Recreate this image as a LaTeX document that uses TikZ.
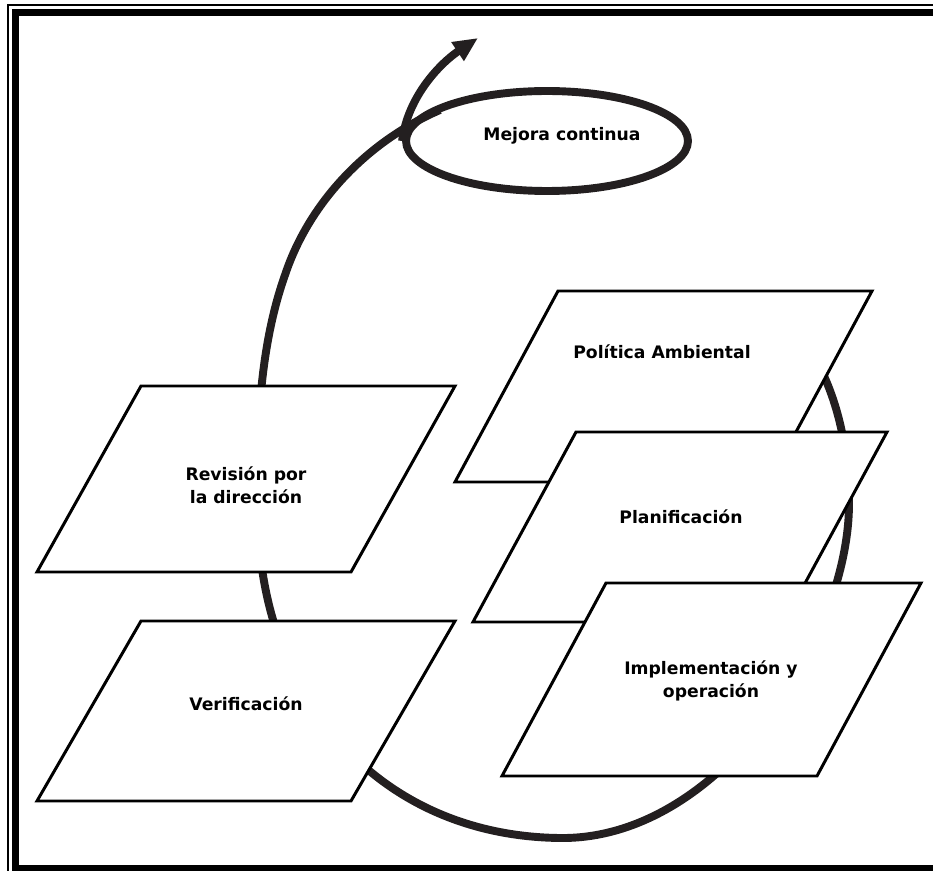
\documentclass[tikz,border=0pt]{standalone}
\usepackage{fontspec}
\setmainfont{DejaVu Sans}
\usetikzlibrary{arrows.meta, shapes.geometric}
\definecolor{tinta}{HTML}{231F20}

\begin{document}
\begin{tikzpicture}[
  x=0.02cm, y=-0.02cm,
  line join=miter,
  caja/.style = {draw=black, line width=1.7pt, fill=white},
  txt/.style = {font=\fontsize{9.8}{13}\selectfont\bfseries, align=center,
                inner sep=0pt},
  lazo/.style = {draw=tinta, line width=4.5pt},
  ovalo/.style = {draw=tinta, line width=4.5pt, ellipse, inner sep=0pt,
                minimum width=5.64cm, minimum height=2.0cm}
]
\useasboundingbox (0,0) rectangle (933,871);
\clip (0,0) rectangle (933,871);

% marco doble
\draw[line width=0.85pt] (8,5) rectangle (950,890);
\draw[line width=4pt] (15.5,12.5) rectangle (945,868.5);

% espiral
\draw[lazo] (780,318) .. controls (825,350) and (850,430) .. (849,505)
  .. controls (848,640) and (720,840) .. (560,838)
  .. controls (380,836) and (262,700) .. (258,520)
  .. controls (255,420) and (262,340) .. (285,275)
  .. controls (310,200) and (370,140) .. (440,110);

% cajas
\draw[caja] (558,291) -- (872,291) -- (769,482) -- (455,482) -- cycle;
\node[txt] (pol) at (662,352) {Política Ambiental};

\draw[caja] (576,432) -- (887,432) -- (784,622) -- (473,622) -- cycle;
\node[txt] (plan) at (681,517) {Planificación};

\draw[caja] (606,583) -- (921,583) -- (817,776) -- (502,776) -- cycle;
\node[txt] (impl) at (711,681) {Implementación y\\operación};

\draw[caja] (141,386) -- (455,386) -- (351,572) -- (37,572) -- cycle;
\node[txt] (rev) at (246,485) {Revisión por\\la dirección};

\draw[caja] (141,621) -- (455,621) -- (351,801) -- (37,801) -- cycle;
\node[txt] (ver) at (246,704) {Verificación};

% mejora continua
\node[ovalo] (mejora) at (547,141) {};
\node[txt] (mej) at (562,136) {Mejora continua};
\coordinate (punta) at (478,38);
\draw[lazo, -{Triangle[length=14pt, width=12pt]}]
  (mejora.west) .. controls (408,95) and (442,62) .. (punta);

\end{tikzpicture}
\end{document}
